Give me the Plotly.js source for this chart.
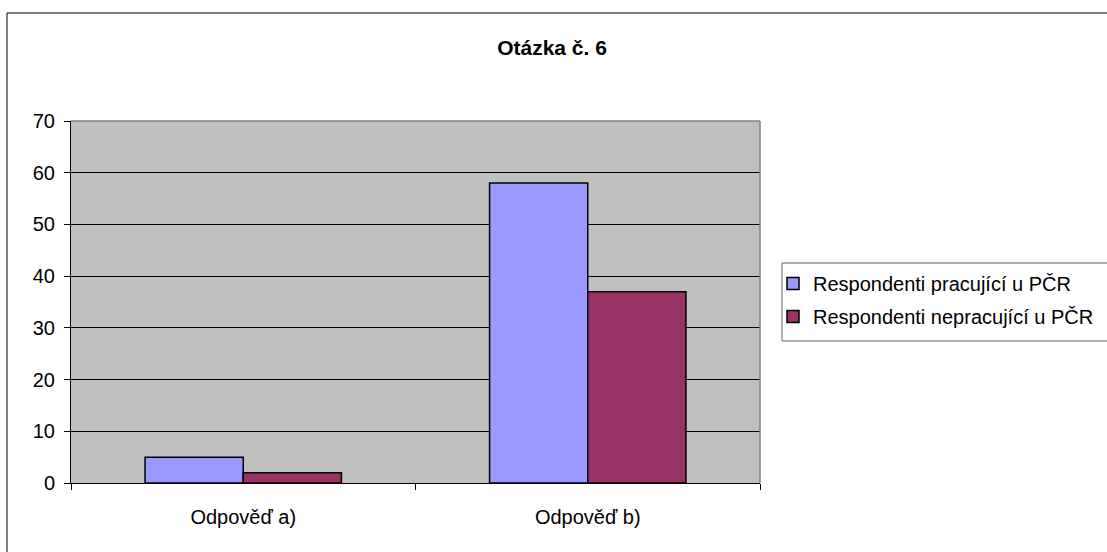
<!DOCTYPE html>
<html>
<head>
<meta charset="utf-8">
<script src="https://cdn.plot.ly/plotly-3.0.1.min.js"></script>
<style>html,body{margin:0;padding:0;background:#fff;}#chart{width:1107px;height:552px;}</style>
</head>
<body>
<div id="chart"></div>
<script>
const categories = ["Odpověď a)", "Odpověď b)"];
const seriesNames = ["Respondenti pracující u PČR", "Respondenti nepracující u PČR"];
const working = [5, 58];
const notWorking = [2, 37];
const yTicks = [0, 10, 20, 30, 40, 50, 60, 70];

const L = 71, R = 760, T = 121, B = 483, W = 1107, H = 552;
const pw = R - L, ph = B - T;
const px = v => (v - L) / pw;
const py = v => (B - v) / ph;

const fam = "Liberation Sans, Arial, sans-serif";
const font = {family: fam, size: 20, color: "#000"};

const traces = [
  {type: "bar", name: seriesNames[0], x: categories, y: working, legendgroup: "g1",
   marker: {color: "#9999FF", line: {color: "#000", width: 1.5}}},
  {type: "bar", name: seriesNames[1], x: categories, y: notWorking, legendgroup: "g2",
   marker: {color: "#993366", line: {color: "#000", width: 1.5}}}
];

const layout = {
  width: W, height: H,
  margin: {l: L, r: W - R, t: T, b: H - B, pad: 0, autoexpand: false},
  paper_bgcolor: "#fff",
  plot_bgcolor: "#C0C0C0",
  font: font,
  barmode: "group",
  bargap: 0.43,
  bargroupgap: 0,
  title: {text: "<b>Otázka č. 6</b>", font: {family: fam, size: 21, color: "#000"},
          x: 552 / W, xref: "container", xanchor: "center",
          y: 1 - 48 / H, yref: "container", yanchor: "middle"},
  xaxis: {type: "category", showgrid: false, zeroline: false, automargin: false,
          showline: true, linecolor: "#000", linewidth: 1,
          ticks: "outside", tickson: "boundaries", ticklen: 6, tickcolor: "#000",
          ticklabelstandoff: 16, tickfont: font, fixedrange: true},
  yaxis: {range: [0, 70], tickvals: yTicks, showgrid: true, gridcolor: "#000", gridwidth: 1,
          zeroline: false, showline: true, linecolor: "#000", linewidth: 1, automargin: false,
          ticks: "outside", ticklen: 6, tickcolor: "#000", ticklabelstandoff: 5,
          tickfont: font, fixedrange: true},
  legend: {x: px(773), y: py(264), xanchor: "left", yanchor: "top",
           borderwidth: 0, bgcolor: "rgba(0,0,0,0)",
           font: {family: fam, size: 20, color: "#000"},
           traceorder: "grouped", tracegroupgap: 4, itemwidth: 30},
  shapes: [
    {type: "rect", xref: "paper", yref: "paper", x0: px(7), x1: px(1120), y0: py(565), y1: py(13),
     line: {color: "#000", width: 1}, fillcolor: "rgba(0,0,0,0)", layer: "below"},
    {type: "rect", xref: "paper", yref: "paper", x0: px(782), x1: px(1120), y0: py(341), y1: py(263),
     line: {color: "#606060", width: 1}, fillcolor: "#fff", layer: "below"},
    {type: "line", xref: "paper", yref: "paper", x0: 0, x1: 1, y0: 1, y1: 1,
     line: {color: "#808080", width: 1.5}},
    {type: "line", xref: "paper", yref: "paper", x0: 1, x1: 1, y0: 0, y1: 1,
     line: {color: "#808080", width: 1.5}}
  ]
};

Plotly.newPlot("chart", traces, layout, {displayModeBar: false, staticPlot: true});
</script>
</body>
</html>
